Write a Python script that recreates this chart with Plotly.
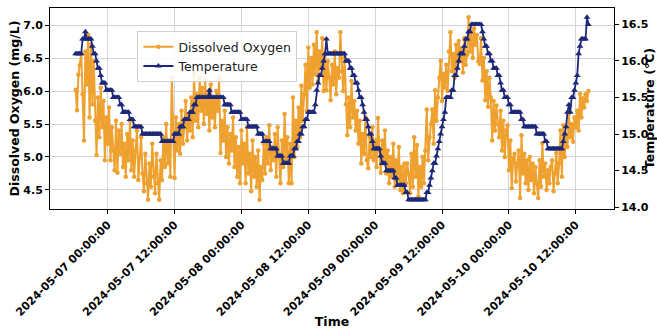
import pandas as pd
import plotly.graph_objects as go

# ---- data ----
start_time = "2024-05-06 18:15"
n_points = 369
times = pd.date_range(start_time, periods=n_points, freq="15min")

dissolved_oxygen = [
    6.02, 5.71, 6.25, 6.39, 6.57, 5.95, 5.25, 6.60, 6.10, 6.85,
    5.60, 6.70, 5.80, 6.45, 5.55, 5.03, 5.90, 5.30, 6.05, 5.45,
    5.85, 4.95, 5.60, 5.20, 5.75, 4.95, 5.45, 5.10, 4.80, 5.55,
    4.76, 5.40, 5.05, 5.50, 4.85, 5.20, 4.70, 5.35, 4.95, 5.55,
    4.80, 5.25, 4.70, 5.10, 5.40, 4.65, 5.00, 5.30, 4.75, 4.48,
    5.05, 4.60, 4.35, 4.90, 4.55, 5.20, 4.70, 4.45, 5.05, 4.60,
    4.35, 4.95, 4.65, 5.30, 4.85, 5.50, 4.90, 5.25, 4.70, 6.21,
    5.35, 4.68, 5.60, 5.10, 5.50, 5.05, 5.70, 5.20, 5.45, 5.85,
    5.25, 5.65, 5.40, 5.90, 5.30, 6.26, 5.55, 5.95, 5.45, 6.20,
    5.70, 6.05, 5.50, 6.16, 5.65, 5.95, 5.40, 6.10, 5.60, 5.85,
    5.45, 6.00, 5.70, 6.19, 5.06, 5.55, 5.25, 5.70, 5.00, 5.45,
    4.90, 5.35, 5.10, 5.60, 4.85, 5.30, 4.70, 5.15, 4.60, 5.40,
    4.90, 5.20, 4.60, 5.45, 4.75, 5.05, 4.48, 5.25, 4.70, 5.00,
    4.55, 5.10, 4.35, 4.85, 4.65, 5.20, 4.75, 5.30, 4.90, 5.48,
    4.80, 5.15, 4.95, 5.35, 4.70, 5.45, 5.00, 4.60, 5.25, 4.85,
    5.65, 4.95, 5.30, 4.60, 5.20, 4.60, 5.90, 5.00, 5.55, 5.15,
    5.75, 5.30, 6.08, 5.55, 5.95, 6.40, 5.70, 6.66, 6.05, 6.50,
    6.10, 6.70, 6.25, 6.89, 6.15, 6.60, 6.35, 6.80, 6.00, 6.55,
    6.01, 6.45, 6.20, 5.86, 6.40, 6.10, 6.60, 5.95, 6.35, 6.20,
    6.89, 6.30, 6.00, 6.50, 5.80, 5.33, 5.90, 5.45, 6.15, 5.60,
    5.85, 5.40, 5.70, 5.20, 5.55, 4.90, 5.35, 5.05, 5.60, 4.95,
    4.83, 5.30, 5.00, 5.45, 4.95, 5.25, 4.85, 5.59, 5.10, 4.76,
    5.25, 4.90, 5.40, 4.75, 5.10, 4.60, 5.00, 4.70, 5.20, 4.55,
    4.95, 4.65, 5.15, 4.50, 4.85, 4.45, 4.90, 4.60, 4.90, 4.75,
    4.45, 5.05, 4.55, 5.30, 4.70, 5.18, 4.40, 4.85, 4.55, 5.00,
    4.60, 5.10, 5.72, 4.95, 5.30, 5.50, 5.72, 5.20, 6.01, 5.55,
    5.90, 6.20, 6.46, 5.85, 6.26, 6.05, 6.40, 6.00, 6.60, 6.89,
    6.30, 6.56, 6.20, 6.70, 6.35, 6.76, 6.45, 6.65, 6.28, 6.80,
    6.40, 6.55, 7.12, 6.60, 6.90, 6.50, 6.95, 6.70, 6.85, 6.45,
    6.41, 6.80, 6.16, 6.50, 5.86, 6.30, 5.76, 6.20, 5.90, 5.25,
    5.85, 5.40, 5.78, 5.50, 5.30, 5.70, 5.10, 5.55, 5.00, 5.40,
    5.48, 4.80, 5.25, 4.53, 4.98, 5.05, 4.63, 4.90, 5.10, 4.38,
    5.33, 4.75, 5.05, 4.60, 4.95, 4.50, 5.00, 4.65, 4.90, 4.45,
    4.85, 4.60, 4.38, 4.95, 4.55, 5.21, 4.70, 4.90, 4.50, 4.80,
    4.60, 4.85, 4.95, 4.48, 4.75, 5.06, 4.60, 4.90, 5.40, 4.70,
    5.48, 5.00, 5.35, 5.15, 5.66, 5.30, 5.50, 5.23, 5.60, 5.45,
    5.70, 5.40, 5.96, 5.60, 5.89, 5.75, 5.95, 5.85, 6.00,
]

temperature = [
    16.1, 16.1, 16.1, 16.1, 16.1, 16.3, 16.3, 16.4, 16.3, 16.3,
    16.3, 16.3, 16.2, 16.1, 16.1, 16.0, 15.9, 15.9, 15.8, 15.7,
    15.7, 15.7, 15.6, 15.6, 15.6, 15.6, 15.6, 15.5, 15.5, 15.5,
    15.5, 15.5, 15.4, 15.4, 15.3, 15.3, 15.3, 15.3, 15.3, 15.2,
    15.2, 15.2, 15.1, 15.1, 15.1, 15.1, 15.1, 15.1, 15.0, 15.0,
    15.0, 15.0, 15.0, 15.0, 15.0, 15.0, 15.0, 15.0, 15.0, 15.0,
    15.0, 15.0, 14.9, 14.9, 14.9, 14.9, 14.9, 14.9, 14.9, 14.9,
    14.9, 15.0, 15.0, 15.0, 15.0, 15.1, 15.1, 15.1, 15.2, 15.2,
    15.2, 15.2, 15.3, 15.3, 15.3, 15.4, 15.4, 15.5, 15.5, 15.5,
    15.5, 15.5, 15.5, 15.5, 15.5, 15.5, 15.6, 15.5, 15.5, 15.5,
    15.5, 15.5, 15.5, 15.5, 15.5, 15.5, 15.5, 15.4, 15.4, 15.4,
    15.4, 15.4, 15.3, 15.3, 15.3, 15.3, 15.3, 15.3, 15.3, 15.2,
    15.2, 15.2, 15.2, 15.2, 15.1, 15.1, 15.1, 15.1, 15.1, 15.1,
    15.1, 15.0, 15.0, 15.0, 15.0, 14.9, 14.9, 14.9, 14.9, 14.9,
    14.8, 14.8, 14.8, 14.8, 14.8, 14.7, 14.7, 14.7, 14.7, 14.6,
    14.6, 14.6, 14.6, 14.6, 14.7, 14.7, 14.7, 14.8, 14.8, 14.9,
    14.9, 15.0, 15.0, 15.1, 15.1, 15.2, 15.2, 15.3, 15.3, 15.3,
    15.3, 15.3, 15.4, 15.6, 15.7, 15.8, 15.8, 15.9, 16.0, 16.1,
    16.3, 16.1, 16.1, 16.1, 16.1, 16.1, 16.1, 16.1, 16.1, 16.1,
    16.1, 16.1, 16.1, 16.1, 16.0, 16.0, 16.0, 15.9, 15.9, 15.8,
    15.8, 15.7, 15.7, 15.6, 15.5, 15.5, 15.4, 15.3, 15.2, 15.2,
    15.1, 15.0, 15.0, 14.9, 14.8, 14.8, 14.8, 14.8, 14.8, 14.7,
    14.6, 14.6, 14.6, 14.5, 14.5, 14.5, 14.5, 14.5, 14.5, 14.4,
    14.4, 14.3, 14.3, 14.3, 14.3, 14.3, 14.3, 14.2, 14.2, 14.1,
    14.1, 14.1, 14.1, 14.1, 14.1, 14.1, 14.1, 14.1, 14.1, 14.1,
    14.1, 14.1, 14.2, 14.2, 14.3, 14.4, 14.5, 14.6, 14.6, 14.7,
    14.8, 14.9, 15.0, 15.1, 15.2, 15.3, 15.5, 15.5, 15.5, 15.5,
    15.6, 15.6, 15.8, 15.8, 15.9, 16.0, 16.1, 16.1, 16.1, 16.2,
    16.3, 16.3, 16.4, 16.4, 16.5, 16.5, 16.5, 16.5, 16.5, 16.5,
    16.5, 16.5, 16.4, 16.3, 16.2, 16.2, 16.1, 16.1, 16.0, 16.0,
    15.9, 15.9, 15.9, 15.8, 15.8, 15.7, 15.6, 15.6, 15.5, 15.5,
    15.5, 15.4, 15.4, 15.3, 15.3, 15.3, 15.3, 15.3, 15.3, 15.3,
    15.2, 15.2, 15.1, 15.1, 15.1, 15.1, 15.1, 15.1, 15.1, 15.1,
    15.1, 15.0, 15.0, 15.0, 15.0, 15.0, 15.0, 14.9, 14.9, 14.8,
    14.8, 14.8, 14.8, 14.8, 14.8, 14.8, 14.8, 14.8, 14.8, 14.8,
    14.9, 15.0, 15.1, 15.3, 15.4, 15.3, 15.5, 15.5, 15.6, 15.7,
    15.8, 16.1, 16.2, 16.3, 16.3, 16.3, 16.3, 16.6, 16.5,
]

x_tick_step_ms = 12 * 3600 * 1000
x_tick_start = "2024-05-07 00:00"

# ---- styling ----
DO_COLOR = "#EFA12F"
T_COLOR = "#1E2878"
FONT = "DejaVu Sans"


def padded(lo, hi, frac=0.05):
    span = hi - lo
    return [lo - span * frac, hi + span * frac]


t0, t1 = times[0], times[-1]
pad = (t1 - t0) * 0.05
x_range = [t0 - pad, t1 + pad]
do_range = padded(min(dissolved_oxygen), max(dissolved_oxygen))
t_range = padded(min(temperature), max(temperature))

fig = go.Figure()
fig.add_trace(go.Scatter(
    x=times, y=dissolved_oxygen, name="Dissolved Oxygen",
    mode="lines+markers",
    line=dict(color=DO_COLOR, width=2),
    marker=dict(symbol="circle", size=4.5, color=DO_COLOR),
    yaxis="y",
))
fig.add_trace(go.Scatter(
    x=times, y=temperature, name="Temperature",
    mode="lines+markers",
    line=dict(color=T_COLOR, width=1.8),
    marker=dict(symbol="triangle-up", size=6, color=T_COLOR),
    yaxis="y2",
))

tickfont = dict(family=FONT, size=11, color="black", weight="bold")
titlefont = dict(family=FONT, size=12.5, color="black", weight="bold")

fig.update_layout(
    width=657, height=329,
    margin=dict(l=50, r=43, t=8, b=120),
    paper_bgcolor="white", plot_bgcolor="white",
    font=dict(family=FONT, color="black"),
    legend=dict(
        x=0.155, y=0.885, xanchor="left", yanchor="top",
        bgcolor="rgba(255,255,255,0.85)", bordercolor="#d0d0d0", borderwidth=1,
        font=dict(family=FONT, size=12.5, color="#222222"),
        tracegroupgap=0, itemwidth=30,
    ),
    xaxis=dict(
        type="date", range=x_range, automargin=False,
        tick0=x_tick_start, dtick=x_tick_step_ms,
        tickformat="%Y-%m-%d %H:%M:%S", tickangle=-45,
        tickfont=tickfont,
        ticks="outside", ticklen=4, tickcolor="black",
        showgrid=True, gridcolor="#d4d4d4", gridwidth=1,
        showline=True, linecolor="black", linewidth=1, mirror=True,
        zeroline=False,
        title=dict(text="Time", font=titlefont, standoff=4),
    ),
    yaxis=dict(
        range=do_range, dtick=0.5, tickformat=".1f", automargin=False,
        tickfont=tickfont,
        ticks="outside", ticklen=4, tickcolor="black",
        showgrid=True, gridcolor="#d4d4d4", gridwidth=1,
        showline=True, linecolor="black", linewidth=1,
        zeroline=False,
        title=dict(text="Dissolved Oxygen (mg/L)", font=titlefont, standoff=0),
    ),
    yaxis2=dict(
        range=t_range, dtick=0.5, tickformat=".1f", automargin=False,
        overlaying="y", side="right",
        tickfont=tickfont,
        ticks="outside", ticklen=4, tickcolor="black",
        showgrid=False,
        showline=True, linecolor="black", linewidth=1,
        zeroline=False,
        title=dict(text="Temperature (°C)", font=titlefont, standoff=4),
    ),
)

# remove the browser's default 8px page margin so the figure sits at (0, 0)
fig.write_html(
    "out.html",
    config={"displayModeBar": False},
    post_script="document.body.style.margin='0px';",
)
